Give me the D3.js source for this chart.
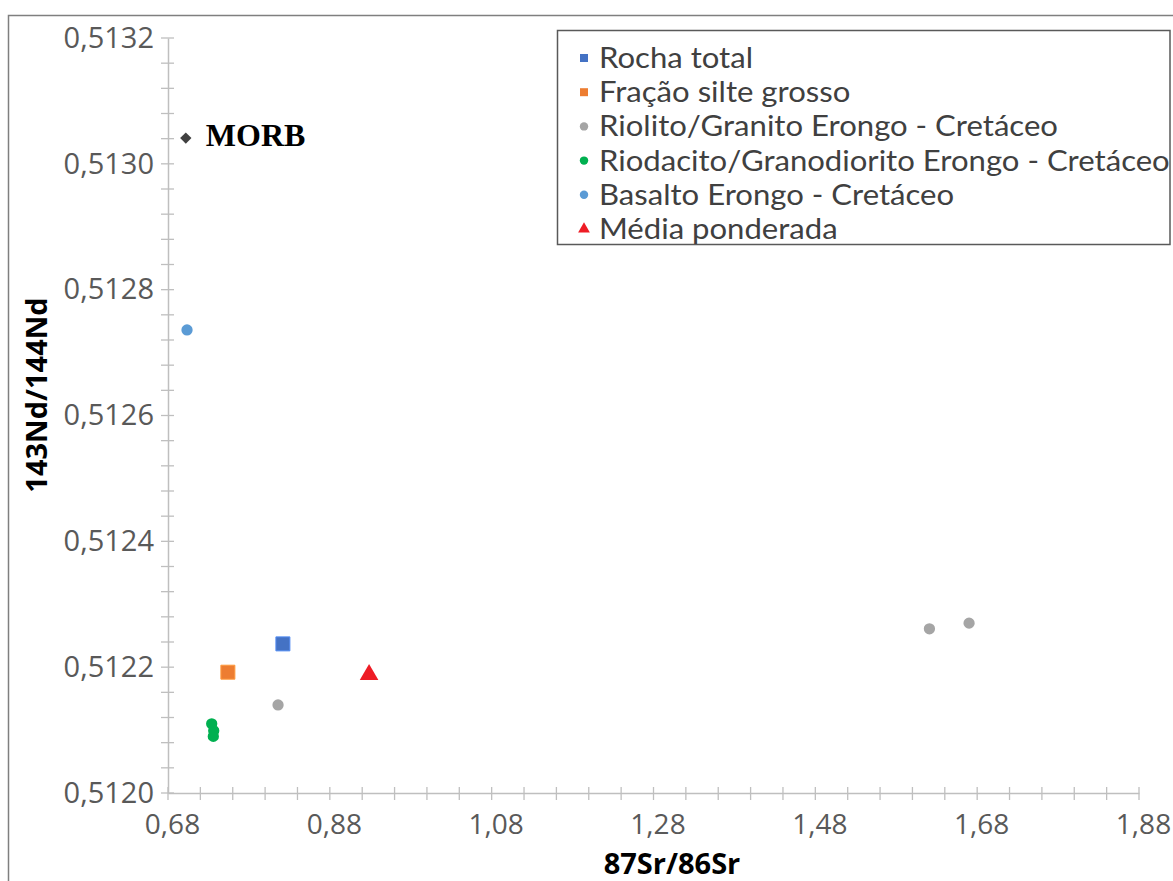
<!DOCTYPE html>
<html>
<head>
<meta charset="utf-8">
<script src="https://cdn.jsdelivr.net/npm/d3@7"></script>
<style>
  html, body { margin: 0; padding: 0; background: #fff; }
  svg { display: block; }
</style>
</head>
<body>
<svg id="chart" width="1173" height="881"></svg>
<script>
// ---- Data ----
const xDomain = [0.68, 1.88];
const yDomain = [0.5120, 0.5132];
const xTickValues = [0.68, 0.88, 1.08, 1.28, 1.48, 1.68, 1.88];
const yTickValues = [0.5120, 0.5122, 0.5124, 0.5126, 0.5128, 0.5130, 0.5132];
const xTitle = "87Sr/86Sr";
const yTitle = "143Nd/144Nd";

const seriesNames = [
  "Rocha total",
  "Fração silte grosso",
  "Riolito/Granito Erongo - Cretáceo",
  "Riodacito/Granodiorito Erongo - Cretáceo",
  "Basalto Erongo - Cretáceo",
  "Média ponderada"
];
const seriesColors = ["#4472c4", "#ed7d31", "#a5a5a5", "#00b050", "#5b9bd5", "#ee1c25"];
const seriesShapes = ["square", "square", "circle", "circle", "circle", "triangle"];

const rochaTotal = [[0.822, 0.512237]];
const fracaoSilte = [[0.754, 0.512192]];
const riolito = [[0.816, 0.512140], [1.621, 0.512261], [1.670, 0.512270]];
const riodacito = [[0.734, 0.512110], [0.7365, 0.512099], [0.736, 0.512090]];
const basalto = [[0.7035, 0.512736]];
const mediaPonderada = [[0.9285, 0.512188]];
const seriesData = [rochaTotal, fracaoSilte, riolito, riodacito, basalto, mediaPonderada];

const morbLabel = "MORB";
const morbPoint = [0.702, 0.513041];

// ---- Layout ----
const svg = d3.select("#chart");
const plotLeft = 168, plotRight = 1139, plotTop = 38, plotBottom = 793;

const x = d3.scaleLinear().domain(xDomain).range([plotLeft, plotRight]);
const y = d3.scaleLinear().domain(yDomain).range([plotBottom, plotTop]);

// outer border
svg.append("rect")
  .attr("x", 8.5).attr("y", 15.5)
  .attr("width", 1200).attr("height", 900)
  .attr("fill", "none").attr("stroke", "#7f7f7f").attr("stroke-width", 1.5);

const axisColor = "#bfbfbf";
const labelColor = "#595959";

// minor ticks
const xMinor = d3.range(0, 31).map(i => xDomain[0] + i * 0.04);
const yMinor = d3.range(0, 31).map(i => yDomain[0] + i * 0.00004);

// X axis
const xAxis = d3.axisBottom(x).tickValues(xTickValues)
  .tickFormat(d => d3.format(".2f")(d).replace(".", ","))
  .tickSize(0).tickPadding(21);
const gx = svg.append("g").attr("transform", `translate(0,${plotBottom})`).call(xAxis);
gx.select(".domain").attr("stroke", axisColor).attr("stroke-width", 1.5);
gx.selectAll("text")
  .attr("fill", labelColor)
  .style("font-family", "'Open Sans', sans-serif")
  .style("font-size", "28px")
  .attr("dx", 4);
svg.append("g").selectAll("line").data(xMinor).join("line")
  .attr("x1", d => x(d)).attr("x2", d => x(d))
  .attr("y1", plotBottom - 6).attr("y2", plotBottom + 7)
  .attr("stroke", axisColor).attr("stroke-width", 1.3);

// Y axis
const yAxis = d3.axisLeft(y).tickValues(yTickValues)
  .tickFormat(d => d3.format(".4f")(d).replace(".", ","))
  .tickSize(0).tickPadding(14);
const gy = svg.append("g").attr("transform", `translate(${plotLeft},0)`).call(yAxis);
gy.select(".domain").attr("stroke", axisColor).attr("stroke-width", 1.5);
gy.selectAll("text")
  .attr("fill", labelColor)
  .style("font-family", "'Open Sans', sans-serif")
  .style("font-size", "29px");
svg.append("g").selectAll("line").data(yMinor).join("line")
  .attr("y1", d => y(d)).attr("y2", d => y(d))
  .attr("x1", plotLeft - 7).attr("x2", plotLeft + 6)
  .attr("stroke", axisColor).attr("stroke-width", 1.3);

// Axis titles
svg.append("text")
  .attr("x", 672).attr("y", 874)
  .attr("text-anchor", "middle")
  .style("font-family", "'Open Sans', sans-serif")
  .style("font-weight", "bold").style("font-size", "29px")
  .attr("fill", "#000")
  .text(xTitle);
svg.append("text")
  .attr("transform", "translate(47,395) rotate(-90)")
  .attr("text-anchor", "middle")
  .style("font-family", "'Open Sans', sans-serif")
  .style("font-weight", "bold").style("font-size", "29px")
  .attr("fill", "#000")
  .text(yTitle);

// symbol generator
function symbolPath(shape, size) {
  const type = shape === "square" ? d3.symbolSquare
    : shape === "triangle" ? d3.symbolTriangle
    : d3.symbolCircle;
  return d3.symbol().type(type).size(size)();
}
const markerSize = { square: 196, circle: 100, triangle: 150 };

// MORB
svg.append("path")
  .attr("d", d3.symbol().type(d3.symbolSquare).size(64)())
  .attr("transform", `translate(${x(morbPoint[0])},${y(morbPoint[1])}) rotate(45)`)
  .attr("fill", "#404040");
svg.append("text")
  .attr("x", x(morbPoint[0]) + 20).attr("y", y(morbPoint[1]) + 8)
  .style("font-family", "'Liberation Serif', 'Times New Roman', serif")
  .style("font-weight", "bold").style("font-size", "32px")
  .attr("fill", "#000")
  .text(morbLabel);

// series points
seriesData.forEach((pts, i) => {
  const shape = seriesShapes[i];
  svg.append("g").selectAll("path").data(pts).join("path")
    .attr("transform", d => `translate(${x(d[0])},${y(d[1])})`)
    .attr("d", symbolPath(shape, markerSize[shape]))
    .attr("fill", seriesColors[i])
    .attr("stroke", shape === "square" ? d3.color(seriesColors[i]).brighter(0.6) : "none")
    .attr("stroke-width", 1);
});

// Legend
const legend = svg.append("g");
legend.append("rect")
  .attr("x", 557.5).attr("y", 30.5).attr("width", 612.5).attr("height", 214)
  .attr("fill", "#fff").attr("stroke", "#595959").attr("stroke-width", 1.5);
const legendSize = { square: 64, circle: 56, triangle: 60 };
seriesNames.forEach((name, i) => {
  const cy = 58 + i * 34.2;
  legend.append("path")
    .attr("transform", `translate(584,${cy})`)
    .attr("d", symbolPath(seriesShapes[i], legendSize[seriesShapes[i]]))
    .attr("fill", seriesColors[i]);
  legend.append("text")
    .attr("transform", `translate(599,${cy + 10}) scale(1.11,1)`)
    .style("font-family", "Lato, sans-serif")
    .style("font-size", "28px")
    .attr("fill", "#404040")
    .text(name);
});
</script>
</body>
</html>
